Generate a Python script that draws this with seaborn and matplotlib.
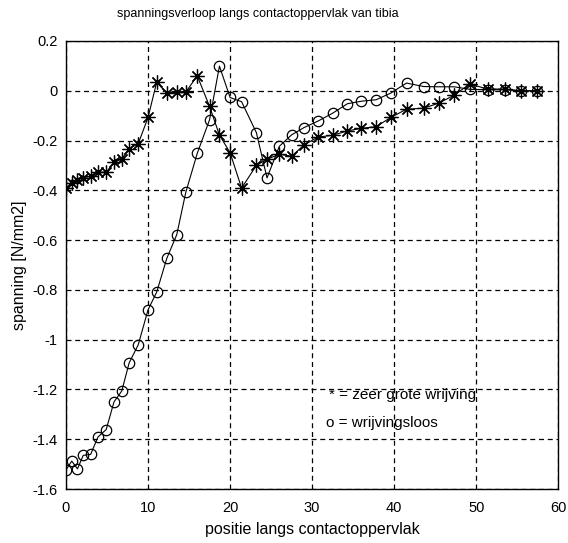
import matplotlib
matplotlib.use("Agg")
import matplotlib.pyplot as plt
import seaborn as sns
import pandas as pd
from matplotlib.ticker import FormatStrFormatter

# node positions along the contact surface
positie = [0, 0.7, 1.4, 2.1, 3.0, 3.9, 4.9, 5.85, 6.8, 7.7, 8.8, 10.0, 11.05,
           12.3, 13.5, 14.6, 16.0, 17.5, 18.7, 20.0, 21.4, 23.2, 24.5, 26.0,
           27.5, 29.0, 30.7, 32.5, 34.3, 36.0, 37.8, 39.6, 41.5, 43.6, 45.4,
           47.3, 49.2, 51.4, 53.5, 55.4, 57.4]

# stress with very high friction (*)
spanning_wrijving = [-0.39, -0.37, -0.357, -0.35, -0.343, -0.328, -0.327,
                     -0.288, -0.274, -0.232, -0.213, -0.107, 0.034, -0.01,
                     -0.005, -0.005, 0.06, -0.063, -0.178, -0.249, -0.391,
                     -0.30, -0.275, -0.255, -0.263, -0.218, -0.186, -0.179,
                     -0.161, -0.151, -0.144, -0.107, -0.074, -0.07, -0.05,
                     -0.018, 0.027, 0.007, 0.007, 0.0, 0.0]

# stress without friction (o)
spanning_wrijvingsloos = [-1.523, -1.488, -1.519, -1.465, -1.461, -1.391,
                          -1.361, -1.25, -1.206, -1.093, -1.021, -0.880,
                          -0.809, -0.672, -0.578, -0.408, -0.251, -0.116,
                          0.099, -0.027, -0.044, -0.168, -0.35, -0.223,
                          -0.177, -0.148, -0.122, -0.09, -0.052, -0.042,
                          -0.036, -0.009, 0.031, 0.017, 0.016, 0.016, 0.006,
                          0.004, 0.004, 0.0, 0.0]

x_ticks = [0, 10, 20, 30, 40, 50, 60]
y_ticks = [-1.6, -1.4, -1.2, -1.0, -0.8, -0.6, -0.4, -0.2, 0.0, 0.2]

sns.set_style("white")
plt.rcParams["font.family"] = ["Liberation Sans", "DejaVu Sans"]
plt.rcParams["axes.unicode_minus"] = False
plt.rcParams["text.color"] = "black"
plt.rcParams["axes.labelcolor"] = "black"

df = pd.DataFrame({"positie": positie,
                   "wrijving": spanning_wrijving,
                   "wrijvingsloos": spanning_wrijvingsloos})

fig = plt.figure(figsize=(5.68, 5.43), dpi=100)
ax = fig.add_axes([66 / 568, 1 - 489 / 543, (558.3 - 66) / 568, (489 - 41) / 543])

sns.lineplot(data=df, x="positie", y="wrijvingsloos", ax=ax, sort=False,
             color="black", linewidth=0.8, marker="o", markersize=7.5,
             markerfacecolor="none", markeredgecolor="black",
             markeredgewidth=0.9, zorder=3)
sns.lineplot(data=df, x="positie", y="wrijving", ax=ax, sort=False,
             color="black", linewidth=0.8, marker=(8, 2, 0), markersize=10,
             markeredgecolor="black", markeredgewidth=0.9, zorder=4)

ax.set_xlim(0, 60)
ax.set_ylim(-1.6, 0.2)
ax.set_xticks(x_ticks)
ax.set_yticks(y_ticks)
ax.yaxis.set_major_formatter(FormatStrFormatter("%g"))
ax.tick_params(direction="in", length=4, width=0.8, labelsize=10.5,
               colors="black")
ax.tick_params(axis="x", pad=9)
ax.tick_params(axis="y", pad=6)
ax.grid(True, color="black", linestyle=(0, (4, 3)), linewidth=0.9)
for s in ax.spines.values():
    s.set_color("black")
    s.set_linewidth(1.0)

ax.set_xlabel("positie langs contactoppervlak", fontsize=11.5, labelpad=5)
ax.set_ylabel("spanning [N/mm2]", fontsize=11.5, labelpad=4)

fig.text(258 / 568, 1 - 14 / 543, "spanningsverloop langs contactoppervlak van tibia",
         ha="center", va="center", fontsize=9)

ax.text(32.0, -1.222, "* = zeer grote wrijving", fontsize=11, ha="left", va="center")
ax.text(31.7, -1.335, "o = wrijvingsloos", fontsize=11, ha="left", va="center")

fig.savefig("out.png", dpi=100, facecolor="white")
